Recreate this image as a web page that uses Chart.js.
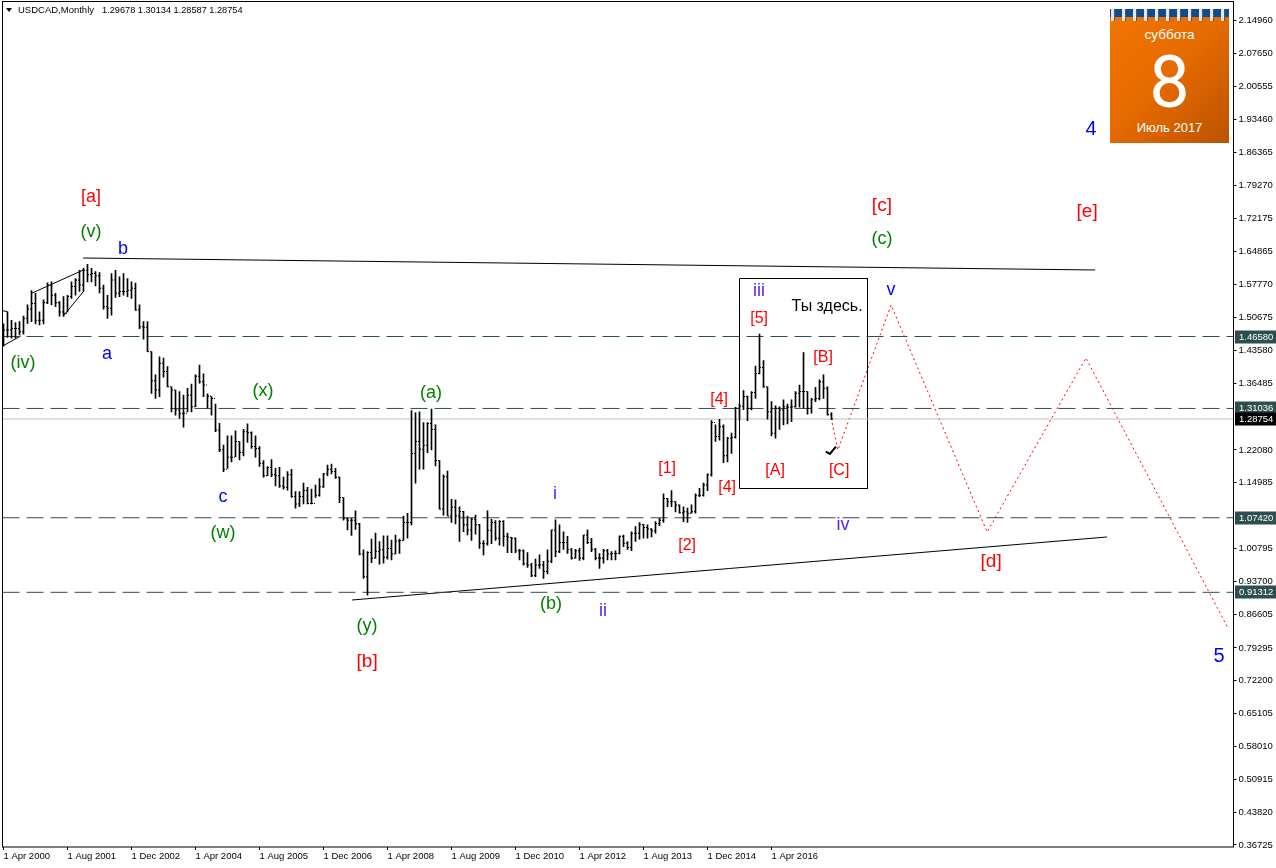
<!DOCTYPE html>
<html>
<head>
<meta charset="utf-8">
<title>USDCAD,Monthly</title>
<script src="https://cdn.jsdelivr.net/npm/chart.js@4"></script>
<style>
  html, body { margin: 0; padding: 0; background: #fff; overflow: hidden; }
  #wrap { position: relative; width: 1276px; height: 868px; }
  canvas { position: absolute; left: 0; top: 0; }
  #head { position: absolute; left: 18px; top: 4px; font: 9.5px "Liberation Sans", sans-serif; color: #000; white-space: pre; }
  #head span { margin-left: 8px; font-size: 9.2px; }
  #tri { position: absolute; left: 6px; top: 8px; width: 0; height: 0; border-left: 3.5px solid transparent; border-right: 3.5px solid transparent; border-top: 4px solid #000; }
  #cal { position: absolute; left: 1110px; top: 9px; width: 119px; height: 134px; background: linear-gradient(135deg, #f47600 0%, #e56a00 50%, #bb5200 100%); color: #fff; text-align: center; overflow: hidden; }
  #band { position: absolute; left: 0; top: 0; width: 119px; height: 8px; background: #0c4c94; }
  #rings { position: absolute; left: 1px; top: 0; width: 118px; height: 12px; background: repeating-linear-gradient(90deg, #e4e6e8 0 3px, #55595c 3px 4px, transparent 4px 11px); }
  #cal div.t { position: absolute; left: 0; width: 119px; }
  #day { top: 18px; font: 13.5px "Liberation Sans", sans-serif; }
  #num { top: 29px; font: 400 72px/90px Roboto, sans-serif; }
  #mon { top: 111px; font: 13px "Liberation Sans", sans-serif; }
</style>
</head>
<body>
<div id="wrap">
  <canvas id="chart" width="1276" height="868"></canvas>
  <div id="tri"></div>
  <div id="head">USDCAD,Monthly<span>1.29678 1.30134 1.28587 1.28754</span></div>
  <div id="cal">
    <div id="band"></div>
    <div id="rings"></div>
    <div class="t" id="day">суббота</div>
    <div class="t" id="num">8</div>
    <div class="t" id="mon">Июль 2017</div>
  </div>
</div>
<script>
// monthly bars, Apr 2000 .. Jul 2017
const highs = [
  1.493,1.519,1.501,1.496,1.498,1.510,1.534,1.565,1.559,1.519,
  1.545,1.582,1.584,1.559,1.541,1.552,1.555,1.584,1.591,1.609,
  1.613,1.622,1.613,1.606,1.604,1.577,1.555,1.602,1.609,1.595,
  1.602,1.591,1.584,1.581,1.534,1.498,1.498,1.433,1.383,1.422,
  1.419,1.401,1.357,1.350,1.347,1.339,1.354,1.363,1.383,1.404,
  1.385,1.342,1.336,1.320,1.278,1.231,1.251,1.251,1.262,1.239,
  1.265,1.277,1.260,1.251,1.228,1.198,1.185,1.200,1.181,1.183,
  1.162,1.174,1.179,1.131,1.131,1.149,1.140,1.136,1.145,1.159,
  1.170,1.188,1.190,1.181,1.162,1.118,1.073,1.073,1.089,1.062,
  1.005,1.001,1.028,1.041,1.023,1.035,1.035,1.026,1.037,1.028,
  1.078,1.084,1.306,1.301,1.303,1.280,1.280,1.309,1.275,1.198,
  1.167,1.175,1.114,1.113,1.098,1.088,1.078,1.073,1.080,1.060,
  1.025,1.089,1.071,1.068,1.068,1.068,1.041,1.032,1.031,1.006,
  1.005,0.999,0.976,0.985,0.994,0.980,1.005,1.048,1.070,1.059,
  1.044,1.034,1.008,1.006,1.008,1.037,1.048,1.030,1.008,0.997,
  1.006,1.006,1.001,1.003,1.035,1.037,1.023,1.044,1.055,1.064,
  1.060,1.059,1.051,1.066,1.073,1.126,1.116,1.133,1.109,1.102,
  1.098,1.095,1.102,1.126,1.138,1.149,1.169,1.284,1.275,1.287,
  1.275,1.248,1.257,1.313,1.320,1.349,1.337,1.347,1.402,1.471,
  1.414,1.357,1.325,1.316,1.314,1.329,1.320,1.329,1.347,1.361,
  1.431,1.347,1.332,1.356,1.372,1.383,1.357,1.30134
];
const lows = [
  1.445,1.464,1.462,1.462,1.469,1.471,1.494,1.498,1.493,1.491,
  1.493,1.537,1.534,1.530,1.510,1.509,1.519,1.548,1.555,1.563,
  1.563,1.584,1.584,1.575,1.560,1.525,1.505,1.512,1.550,1.552,
  1.555,1.552,1.548,1.522,1.483,1.460,1.433,1.343,1.332,1.336,
  1.378,1.357,1.303,1.296,1.289,1.270,1.303,1.303,1.314,1.365,
  1.336,1.311,1.296,1.260,1.217,1.174,1.181,1.195,1.206,1.199,
  1.208,1.237,1.224,1.205,1.185,1.162,1.165,1.163,1.143,1.140,
  1.136,1.134,1.118,1.095,1.098,1.104,1.104,1.104,1.118,1.121,
  1.140,1.165,1.169,1.159,1.107,1.069,1.048,1.036,1.049,0.994,
  0.943,0.907,0.977,0.987,0.974,0.976,0.985,0.983,0.996,0.997,
  1.025,1.030,1.059,1.149,1.179,1.179,1.215,1.221,1.186,1.093,
  1.080,1.078,1.064,1.061,1.023,1.044,1.037,1.025,1.039,1.008,
  0.994,1.015,1.018,1.025,1.015,1.013,0.999,0.999,0.999,0.983,
  0.972,0.967,0.947,0.947,0.965,0.943,0.953,0.977,0.990,0.999,
  1.006,0.997,0.985,0.987,0.982,0.983,1.018,1.001,0.983,0.965,
  0.976,0.983,0.983,0.983,0.996,1.012,1.006,1.003,1.023,1.028,
  1.030,1.030,1.033,1.041,1.057,1.064,1.098,1.098,1.087,1.084,
  1.066,1.064,1.084,1.084,1.120,1.121,1.133,1.164,1.239,1.242,
  1.193,1.195,1.213,1.246,1.285,1.308,1.284,1.307,1.332,1.385,
  1.356,1.287,1.251,1.246,1.265,1.275,1.277,1.282,1.313,1.313,
  1.311,1.298,1.300,1.325,1.329,1.332,1.296,1.28587
];
const opens = [
  1.470,1.480,1.480,1.483,1.483,1.476,1.505,1.525,1.537,1.501,
  1.501,1.539,1.577,1.555,1.539,1.519,1.516,1.552,1.574,1.588,
  1.577,1.609,1.599,1.602,1.597,1.570,1.530,1.527,1.588,1.559,
  1.563,1.563,1.566,1.570,1.523,1.487,1.486,1.433,1.370,1.350,
  1.408,1.390,1.357,1.350,1.307,1.300,1.300,1.339,1.314,1.380,
  1.368,1.361,1.337,1.332,1.264,1.221,1.179,1.205,1.205,1.239,
  1.215,1.260,1.258,1.228,1.224,1.192,1.165,1.183,1.167,1.165,
  1.143,1.140,1.167,1.120,1.104,1.120,1.133,1.105,1.105,1.123,
  1.141,1.169,1.179,1.174,1.162,1.118,1.073,1.069,1.069,1.061,
  0.996,0.947,0.999,0.987,1.002,1.005,0.989,1.008,0.996,1.024,
  1.025,1.064,1.064,1.213,1.239,1.222,1.231,1.278,1.265,1.198,
  1.093,1.163,1.078,1.097,1.078,1.088,1.059,1.048,1.071,1.059,
  1.019,1.018,1.047,1.064,1.030,1.066,1.034,1.032,1.030,1.003,
  1.003,0.975,0.972,0.949,0.972,0.972,0.958,0.980,1.048,1.001,
  1.021,1.021,1.005,0.987,1.003,0.987,1.037,1.021,1.006,0.987,
  0.987,1.003,0.996,0.997,0.997,1.034,1.019,1.010,1.041,1.041,
  1.059,1.053,1.050,1.046,1.062,1.069,1.116,1.109,1.109,1.102,
  1.085,1.087,1.084,1.087,1.123,1.123,1.145,1.167,1.280,1.250,
  1.271,1.208,1.246,1.248,1.311,1.315,1.336,1.311,1.345,1.386,
  1.399,1.357,1.303,1.257,1.311,1.307,1.314,1.313,1.314,1.343,
  1.347,1.347,1.311,1.329,1.332,1.368,1.354,1.29678
];
const closes = [
  1.480,1.480,1.483,1.483,1.476,1.505,1.525,1.537,1.501,1.501,
  1.539,1.577,1.555,1.539,1.519,1.516,1.552,1.574,1.588,1.577,
  1.609,1.599,1.602,1.597,1.570,1.530,1.527,1.588,1.559,1.563,
  1.563,1.566,1.570,1.523,1.487,1.486,1.433,1.370,1.350,1.408,
  1.390,1.357,1.350,1.307,1.300,1.300,1.339,1.314,1.380,1.368,
  1.361,1.337,1.332,1.264,1.221,1.179,1.205,1.205,1.239,1.215,
  1.260,1.258,1.228,1.224,1.192,1.165,1.183,1.167,1.165,1.143,
  1.140,1.167,1.120,1.104,1.120,1.133,1.105,1.105,1.123,1.141,
  1.169,1.179,1.174,1.162,1.118,1.073,1.069,1.069,1.061,0.996,
  0.947,0.999,0.987,1.002,1.005,0.989,1.008,0.996,1.024,1.025,
  1.064,1.064,1.213,1.239,1.222,1.231,1.278,1.265,1.198,1.093,
  1.163,1.078,1.097,1.078,1.088,1.059,1.048,1.071,1.059,1.019,
  1.018,1.047,1.064,1.030,1.066,1.034,1.032,1.030,1.003,1.003,
  0.975,0.972,0.949,0.972,0.972,0.958,0.980,1.048,1.001,1.021,
  1.021,1.005,0.987,1.003,0.987,1.037,1.021,1.006,0.987,0.987,
  1.003,0.996,0.997,0.997,1.034,1.019,1.010,1.041,1.041,1.059,
  1.053,1.050,1.046,1.062,1.069,1.116,1.109,1.109,1.102,1.085,
  1.087,1.084,1.087,1.123,1.123,1.145,1.167,1.280,1.250,1.271,
  1.208,1.246,1.248,1.311,1.315,1.336,1.311,1.345,1.386,1.399,
  1.357,1.303,1.257,1.311,1.307,1.314,1.313,1.314,1.343,1.347,
  1.347,1.311,1.329,1.332,1.368,1.354,1.29678,1.28754
];

const dateLabels = ["1 Apr 2000","1 Aug 2001","1 Dec 2002","1 Apr 2004","1 Aug 2005","1 Dec 2006","1 Apr 2008","1 Aug 2009","1 Dec 2010","1 Apr 2012","1 Aug 2013","1 Dec 2014","1 Apr 2016"];
const dateBars = [0,16,32,48,64,80,96,112,128,144,160,176,192];
const priceTicks = [2.1496,2.0765,2.00555,1.9346,1.86365,1.7927,1.72175,1.64865,1.5777,1.50675,1.4358,1.36485,1.2208,1.14985,1.00795,0.937,0.86605,0.79295,0.722,0.65105,0.5801,0.50915,0.4382,0.36725];

const levels = [1.4658,1.31036,1.0742,0.91312];
const lastPrice = 1.28754;

// wave labels
const waveText = ["[a]","(v)","b","(iv)","a","(x)","c","(w)","(y)","[b]","(a)","(b)","i","ii","[1]","[2]","[4]","[4]","iii","[5]","[A]","[B]","[C]","Ты здесь.","iv","v","[c]","(c)","[e]","[d]","4","5"];
const waveBars = [21.9,21.9,29.9,4.9,25.9,64.9,54.9,54.9,90.9,90.9,106.9,136.9,137.9,149.9,165.9,170.9,178.9,180.9,188.9,188.9,192.9,204.9,208.9,205.9,209.9,221.9,219.6,219.6,270.9,246.9,271.9,303.9];
const wavePrices = [1.7694,1.6938,1.657,1.4107,1.4302,1.3502,1.1212,1.0435,0.8425,0.7648,1.3459,0.8901,1.1277,0.8749,1.1817,1.0154,1.3308,1.1407,1.5663,1.5058,1.1774,1.4215,1.1774,1.5317,1.0607,1.5684,1.7499,1.6786,1.737,0.9808,1.9163,0.7777];
const waveColors = ["#ff0000","#008000","#0000ff","#008000","#0000ff","#008000","#0000ff","#008000","#008000","#ff0000","#008000","#008000","#5b21f5","#5b21f5","#ff0000","#ff0000","#ff0000","#ff0000","#5b21f5","#ff0000","#ff0000","#ff0000","#ff0000","#000000","#5b21f5","#0000ff","#ff0000","#008000","#ff0000","#ff0000","#0000ff","#0000ff"];
const waveSizes = [18,18,18,18,18,18,18,18,18,19,18,18,18,18,16,16,16,16,18,16,16,16,16,16,18,18,19,18,19,19,20,20];

// drawn lines
const upperBars = [19.9,272.9], upperPrices = [1.6354,1.6095];
const lowerBars = [87.1,275.9], lowerPrices = [0.8965,1.0327];
const wedgeA = [[7.05,1.5592],[19.95,1.6095]];
const wedgeB = [[14.95,1.5101],[19.95,1.5626]];
const wedgeC = [[-0.2,1.4453],[4.3,1.4669]];
const wedgeD = [[-0.2,1.5216],[0.95,1.5194]];
const boxBars = [184,216,216,184,184], boxPrices = [1.5911,1.5911,1.1374,1.1374,1.5911];
const forecastBars = [206.9,208.6,221.9,245.9,270.6,306.1];
const forecastPrices = [1.2898,1.2206,1.5339,1.0435,1.4194,0.8361];
const checkBars = [205.6,206.6,208.1], checkPrices = [1.2169,1.212,1.2277];

const xMin = -0.25, xMax = 307.5, yMin = 0.3629, yMax = 2.18849;

const toPoints = (xs, ys) => xs.map((x, i) => ({ x, y: ys[i] }));
const pairs = arr => arr.map(p => ({ x: p[0], y: p[1] }));
const lineSet = (data, color, width, dash) => ({
  type: "line", data, borderColor: color, borderWidth: width || 1, borderDash: dash || [],
  pointRadius: 0, fill: false, tension: 0, order: 5
});

const priceTag = (ctx, y, text, bg) => {
  ctx.fillStyle = bg;
  ctx.fillRect(1235, Math.round(y) - 6.5, 41, 13);
  ctx.fillStyle = "#fff";
  ctx.textAlign = "left";
  ctx.textBaseline = "middle";
  ctx.fillText(text, 1239, Math.round(y));
};

const overlay = {
  id: "overlay",
  afterDatasetsDraw(chart) {
    const { ctx, chartArea: a, scales: { x, y } } = chart;
    ctx.save();
    ctx.strokeStyle = "#000";
    ctx.lineWidth = 1;
    ctx.strokeRect(a.left, a.top - 0.5, a.right - a.left, a.bottom - a.top + 0.5);
    ctx.textAlign = "center";
    ctx.textBaseline = "middle";
    waveText.forEach((t, i) => {
      ctx.font = waveSizes[i] + 'px "Liberation Sans", sans-serif';
      ctx.fillStyle = waveColors[i];
      ctx.fillText(t, x.getPixelForValue(waveBars[i]), y.getPixelForValue(wavePrices[i]) + 1);
    });
    ctx.font = '9.5px "Liberation Sans", sans-serif';
    levels.forEach(l => priceTag(ctx, y.getPixelForValue(l), l.toFixed(5), "#2f4f4f"));
    priceTag(ctx, y.getPixelForValue(lastPrice), lastPrice.toFixed(5), "#000");
    ctx.restore();
  }
};

new Chart(document.getElementById("chart"), {
  data: {
    datasets: [
      lineSet(toPoints([xMin, xMax], [lastPrice, lastPrice]), "#c0c0c0"),
      ...levels.map(l => lineSet(toPoints([xMin, xMax], [l, l]), "#2f4f4f", 1, [17, 7])),
      lineSet(toPoints(upperBars, upperPrices), "#000"),
      lineSet(toPoints(lowerBars, lowerPrices), "#000"),
      lineSet(pairs(wedgeA), "#000"),
      lineSet(pairs(wedgeB), "#000"),
      lineSet(pairs(wedgeC), "#000"),
      lineSet(pairs(wedgeD), "#000"),
      lineSet(toPoints(boxBars, boxPrices), "#000"),
      lineSet(toPoints(forecastBars, forecastPrices), "#ff0000", 1, [2, 3]),
      lineSet(toPoints(checkBars, checkPrices), "#000", 2),
      {
        type: "bar",
        data: highs.map((h, i) => ({ x: i, y: [lows[i], h] })),
        backgroundColor: "#000",
        barThickness: 1,
        order: 2
      },
      {
        type: "scatter",
        data: opens.map((v, i) => ({ x: i - 0.25, y: v })),
        pointStyle: "rect", pointRadius: 0.71, borderWidth: 0, backgroundColor: "#000", order: 1
      },
      {
        type: "scatter",
        data: closes.map((v, i) => ({ x: i + 0.25, y: v })),
        pointStyle: "rect", pointRadius: 0.71, borderWidth: 0, backgroundColor: "#000", order: 1
      }
    ]
  },
  options: {
    responsive: false,
    animation: false,
    events: [],
    layout: { autoPadding: false, padding: { left: 2.5, top: 2, right: 0, bottom: 0 } },
    plugins: { legend: { display: false }, tooltip: { enabled: false } },
    scales: {
      x: {
        type: "linear",
        offset: false,
        min: xMin,
        max: xMax,
        afterBuildTicks: s => { s.ticks = dateBars.map(v => ({ value: v })); },
        afterFit: s => { s.height = 21; s.paddingLeft = 0; s.paddingRight = 0; },
        grid: { offset: false, drawOnChartArea: false, drawTicks: true, tickLength: 3, color: "#000" },
        border: { display: false },
        ticks: {
          autoSkip: false, maxRotation: 0, minRotation: 0, align: "start", padding: 1, color: "#000",
          font: { family: "Liberation Sans", size: 9.5 },
          callback: (v, i) => dateLabels[i]
        }
      },
      y: {
        type: "linear",
        position: "right",
        min: yMin,
        max: yMax,
        afterBuildTicks: s => { s.ticks = priceTicks.map(v => ({ value: v })); },
        afterFit: s => { s.width = 42.5; s.paddingTop = 0; s.paddingBottom = 0; },
        grid: { drawOnChartArea: false, drawTicks: true, tickLength: 3, color: "#000" },
        border: { display: false },
        ticks: {
          autoSkip: false, crossAlign: "near", padding: 2, color: "#000",
          font: { family: "Liberation Sans", size: 9.5 },
          callback: v => v.toFixed(5)
        }
      }
    }
  },
  plugins: [overlay]
});
</script>
</body>
</html>
